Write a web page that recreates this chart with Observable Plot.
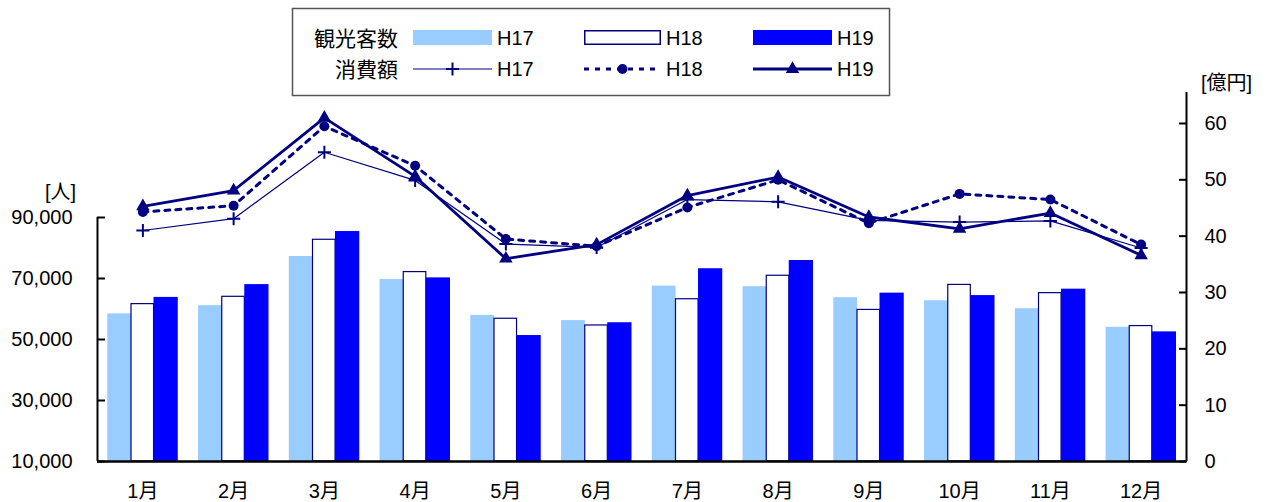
<!DOCTYPE html>
<html>
<head>
<meta charset="utf-8">
<script src="https://cdn.jsdelivr.net/npm/d3@7"></script>
<script src="https://cdn.jsdelivr.net/npm/@observablehq/plot@0.6"></script>
<style>
  html, body { margin: 0; padding: 0; background: white; }
  #wrap { position: relative; width: 1272px; height: 502px; overflow: hidden;
          font-family: "Liberation Sans", Arial, "Noto Sans CJK JP", sans-serif; }
  #wrap > svg, #wrap > .layer { position: absolute; left: 0; top: 0; }
  .lbl { position: absolute; font-size: 20px; line-height: 24px; color: #000; white-space: nowrap; }
</style>
</head>
<body>
<div id="wrap"></div>
<script>
// ---- data ----
const months = ["1月","2月","3月","4月","5月","6月","7月","8月","9月","10月","11月","12月"];
const visitorsH17 = [58400, 61100, 77200, 69700, 57900, 56200, 67500, 67300, 63700, 62700, 60100, 54000];
const visitorsH18 = [61600, 64000, 82700, 72100, 56800, 54600, 63200, 70900, 59700, 67900, 65200, 54400];
const visitorsH19 = [63800, 68000, 85400, 70200, 51300, 55500, 73200, 75900, 65200, 64400, 66500, 52500];
const spendH17 = [41.0, 43.1, 54.9, 49.9, 38.6, 38.0, 46.5, 46.1, 42.8, 42.5, 42.7, 37.9];
const spendH18 = [44.3, 45.4, 59.5, 52.5, 39.5, 38.2, 45.1, 50.0, 42.3, 47.5, 46.5, 38.5];
const spendH19 = [45.3, 48.1, 61.0, 50.6, 36.0, 38.5, 47.2, 50.5, 43.4, 41.3, 44.1, 36.6];
const leftTicks = [10000, 30000, 50000, 70000, 90000];
const rightTicks = [0, 10, 20, 30, 40, 50, 60];

// ---- layout ----
const W = 1272, H = 502, ML = 97, MR = 86, MB = 41;
const NAVY = "#000080";
const FONT = '"Liberation Sans", Arial, "Noto Sans CJK JP", sans-serif';
const rows = (vals) => vals.map((v, i) => ({m: i + 1, v}));
const monthIdx = months.map((_, i) => i + 1);
const yBase = leftTicks[0];
const PLUS_R = 4.3;

const wrap = document.getElementById("wrap");

// Bars + left axis
const plotA = Plot.plot({
  width: W, height: H,
  marginLeft: ML, marginRight: MR, marginTop: 217, marginBottom: MB,
  style: {fontFamily: FONT, fontSize: "20px", background: "transparent", color: "black"},
  x: {type: "linear", domain: [0.5, 12.5], axis: null},
  y: {domain: [leftTicks[0], leftTicks[leftTicks.length - 1]], axis: null},
  marks: [
    Plot.rect(rows(visitorsH17), {x1: d => d.m - 0.5, x2: d => d.m + 0.5, y1: () => yBase, y2: "v",
      fill: "#99CCFF", insetLeft: 10.3, insetRight: 56.7}),
    Plot.rect(rows(visitorsH18), {x1: d => d.m - 0.5, x2: d => d.m + 0.5, y1: () => yBase, y2: "v",
      fill: "white", stroke: NAVY, strokeWidth: 1.2, insetLeft: 34, insetRight: 34.2}),
    Plot.rect(rows(visitorsH19), {x1: d => d.m - 0.5, x2: d => d.m + 0.5, y1: () => yBase, y2: "v",
      fill: "#0000FF", insetLeft: 56.5, insetRight: 10}),
    Plot.axisY({ticks: leftTicks, tickFormat: d3.format(","), tickSize: -8, tickPadding: 33, strokeWidth: 2, label: null}),
    Plot.axisX({ticks: monthIdx, tickFormat: i => months[i - 1], tickSize: 0, tickPadding: 22, label: null}),
    Plot.ruleX([0.5], {stroke: "black", strokeWidth: 2}),
    Plot.ruleY([yBase], {stroke: "black", strokeWidth: 2.5})
  ]
});
wrap.appendChild(plotA);

// Lines + right axis
const plotB = Plot.plot({
  width: W, height: H,
  marginLeft: ML, marginRight: MR, marginTop: 92, marginBottom: MB,
  style: {fontFamily: FONT, fontSize: "20px", background: "transparent", color: "black", pointerEvents: "none"},
  x: {type: "linear", domain: [0.5, 12.5], axis: null},
  y: {domain: [0, 65.5], axis: null},
  marks: [
    Plot.ruleX([12.5], {stroke: "black", strokeWidth: 2}),
    Plot.axisY({anchor: "right", ticks: rightTicks, tickSize: -8, tickPadding: 26, strokeWidth: 2, label: null}),
    Plot.lineY(rows(spendH17), {x: "m", y: "v", stroke: NAVY, strokeWidth: 1.2}),
    Plot.dot(rows(spendH17), {x: "m", y: "v", symbol: "plus", stroke: NAVY, strokeWidth: 2, r: PLUS_R}),
    Plot.lineY(rows(spendH18), {x: "m", y: "v", stroke: NAVY, strokeWidth: 3, strokeDasharray: "5,6"}),
    Plot.dot(rows(spendH18), {x: "m", y: "v", symbol: "circle", fill: NAVY, r: 5}),
    Plot.lineY(rows(spendH19), {x: "m", y: "v", stroke: NAVY, strokeWidth: 2.8}),
    Plot.dot(rows(spendH19), {x: "m", y: "v", symbol: "triangle", fill: NAVY, r: 5})
  ]
});
wrap.appendChild(plotB);

// Unit labels
const l1 = document.createElement("div");
l1.className = "lbl"; l1.textContent = "[人]";
l1.style.left = "0px"; l1.style.width = "76px"; l1.style.textAlign = "right"; l1.style.top = "180px";
wrap.appendChild(l1);
const l2 = document.createElement("div");
l2.className = "lbl"; l2.textContent = "[億円]";
l2.style.left = "1201px"; l2.style.top = "71px";
wrap.appendChild(l2);

// Legend
const leg = d3.create("svg").attr("width", W).attr("height", 100).attr("class", "layer")
  .style("font-family", FONT).style("font-size", "20px");
leg.append("rect").attr("x", 292.5).attr("y", 8.5).attr("width", 597).attr("height", 87)
  .attr("fill", "white").attr("stroke", "#555").attr("stroke-width", 1.5);
const r1 = 38, r2 = 69;
leg.append("text").attr("x", 398).attr("y", r1).attr("text-anchor", "end").attr("dominant-baseline", "central")
  .style("font-size", "21px").text("観光客数");
leg.append("text").attr("x", 398).attr("y", r2).attr("text-anchor", "end").attr("dominant-baseline", "central")
  .style("font-size", "21px").text("消費額");
const cols = [{x: 413, w: 79, t: 497, name: "H17"}, {x: 584, w: 77, t: 666, name: "H18"}, {x: 753, w: 79, t: 837, name: "H19"}];
// swatches
leg.append("rect").attr("x", cols[0].x).attr("y", 30).attr("width", cols[0].w).attr("height", 15).attr("fill", "#99CCFF");
leg.append("rect").attr("x", cols[1].x + 0.75).attr("y", 30.75).attr("width", cols[1].w - 1.5).attr("height", 13.5)
  .attr("fill", "white").attr("stroke", NAVY).attr("stroke-width", 1.5);
leg.append("rect").attr("x", cols[2].x).attr("y", 30).attr("width", cols[2].w).attr("height", 15).attr("fill", "#0000FF");
// line samples
leg.append("line").attr("x1", cols[0].x).attr("x2", cols[0].x + cols[0].w).attr("y1", r2).attr("y2", r2)
  .attr("stroke", NAVY).attr("stroke-width", 1.2);
leg.append("path").attr("d", d3.symbol(d3.symbolPlus, Math.PI * PLUS_R * PLUS_R)())
  .attr("transform", `translate(${cols[0].x + cols[0].w / 2},${r2})`).attr("fill", "none").attr("stroke", NAVY).attr("stroke-width", 2);
leg.append("line").attr("x1", cols[1].x).attr("x2", cols[1].x + cols[1].w).attr("y1", r2).attr("y2", r2)
  .attr("stroke", NAVY).attr("stroke-width", 3).attr("stroke-dasharray", "5,6");
leg.append("circle").attr("cx", cols[1].x + cols[1].w / 2).attr("cy", r2).attr("r", 5).attr("fill", NAVY);
leg.append("line").attr("x1", cols[2].x).attr("x2", cols[2].x + cols[2].w).attr("y1", r2).attr("y2", r2)
  .attr("stroke", NAVY).attr("stroke-width", 2.8);
leg.append("path").attr("d", d3.symbol(d3.symbolTriangle, Math.PI * 25)())
  .attr("transform", `translate(${cols[2].x + cols[2].w / 2},${r2})`).attr("fill", NAVY);
for (const c of cols) {
  for (const y of [r1, r2]) {
    leg.append("text").attr("x", c.t).attr("y", y).attr("dominant-baseline", "central").text(c.name);
  }
}
wrap.appendChild(leg.node());
</script>
</body>
</html>
